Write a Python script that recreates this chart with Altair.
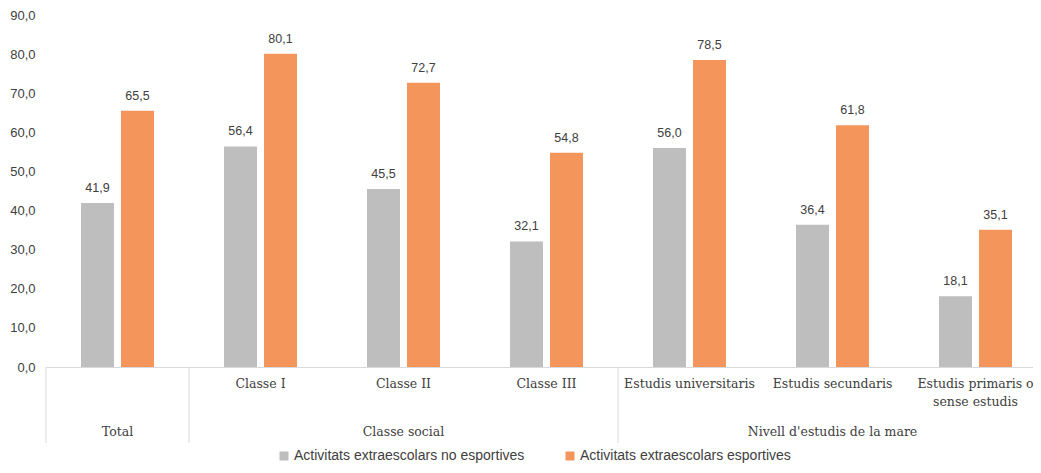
import altair as alt
import pandas as pd

categories = ["Total", "Classe I", "Classe II", "Classe III",
              "Estudis universitaris", "Estudis secundaris",
              "Estudis primaris o sense estudis"]
series = ["Activitats extraescolars no esportives",
          "Activitats extraescolars esportives"]
no_esportives = [41.9, 56.4, 45.5, 32.1, 56.0, 36.4, 18.1]
esportives = [65.5, 80.1, 72.7, 54.8, 78.5, 61.8, 35.1]
groups = ["Total", "Classe social", "Nivell d'estudis de la mare"]
group_center = ["Total", "Classe II", "Estudis secundaris"]
group_start = ["Total", "Classe I", "Estudis universitaris"]
y_ticks = [0, 10, 20, 30, 40, 50, 60, 70, 80, 90]

GRAY = "#BFBEBF"
ORANGE = "#F4955C"
TEXT = "#404040"
LINE = "#D9D9D9"
SERIF = "DejaVu Serif"
SANS = "Liberation Sans"

rows = []
for c, a, b in zip(categories, no_esportives, esportives):
    rows.append({"cat": c, "series": series[0], "value": a})
    rows.append({"cat": c, "series": series[1], "value": b})
df = pd.DataFrame(rows)
grp_df = pd.DataFrame({"group": groups, "center": group_center})
sep_df = pd.DataFrame({"start": group_start})

H = 352
W = 987
xscale = alt.Scale(domain=categories, range=[0, 1001], paddingInner=0, paddingOuter=0)
yscale = alt.Scale(domain=[0, 90], nice=False, zero=True)
xoff = alt.XOffset("series:N", sort=series,
                   scale=alt.Scale(domain=series, paddingInner=0.175, paddingOuter=0.875))

xaxis = alt.Axis(labelAngle=0, ticks=False, domainColor=LINE, domainWidth=1,
                 labelFont=SERIF, labelFontSize=12.5, labelColor=TEXT,
                 labelPadding=10, labelLineHeight=18, labelLimit=300,
                 labelOverlap=False, labelBound=False,
                 labelExpr="datum.label == 'Total' ? '' : split(replace(datum.label, 'primaris o ', 'primaris o|'), '|')")
yaxis = alt.Axis(values=y_ticks, tickCount=10, domain=False, ticks=False, grid=False,
                 labelFont=SANS, labelFontSize=13, labelColor=TEXT,
                 labelPadding=11, labelOverlap=False,
                 labelExpr="replace(format(datum.value, '.1f'), '.', ',')")

base = alt.Chart(df)

bars = base.mark_bar().encode(
    x=alt.X("cat:N", sort=categories, scale=xscale, title=None, axis=xaxis),
    xOffset=xoff,
    y=alt.Y("value:Q", scale=yscale, title=None, axis=yaxis),
    color=alt.Color("series:N", sort=series,
                    scale=alt.Scale(domain=series, range=[GRAY, ORANGE]),
                    legend=alt.Legend(orient="none", legendX=231, legendY=434,
                                      direction="horizontal", title=None,
                                      symbolType="square", symbolSize=81,
                                      symbolStrokeWidth=0, labelLimit=400,
                                      labelFont=SANS, labelFontSize=14,
                                      labelColor=TEXT, columnPadding=38,
                                      labelOffset=3)),
)

labels = base.transform_calculate(
    lbl="replace(format(datum.value, '.1f'), '.', ',')"
).mark_text(baseline="bottom", dy=-8, font=SANS, fontSize=12.5, color=TEXT).encode(
    x=alt.X("cat:N", sort=categories, scale=xscale, title=None, axis=xaxis),
    xOffset=xoff,
    y=alt.Y("value:Q", scale=yscale, title=None, axis=yaxis),
    text="lbl:N",
)

seps = alt.Chart(sep_df).mark_rule(color=LINE, strokeWidth=1).encode(
    x=alt.X("start:N", scale=xscale, title=None, bandPosition=0, axis=xaxis),
    y=alt.value(H),
    y2=alt.value(H + 76),
)

grp_text = alt.Chart(grp_df).mark_text(font=SERIF, fontSize=12.5, color=TEXT,
                                       baseline="middle").encode(
    x=alt.X("center:N", scale=xscale, title=None, axis=xaxis),
    y=alt.value(H + 65),
    text="group:N",
)

chart = alt.layer(bars, labels, seps, grp_text).properties(
    width=W, height=H,
    autosize=alt.AutoSizeParams(type="none"),
    padding={"left": 38, "top": 7, "right": 0, "bottom": 98},
).configure_view(stroke=None)

chart.save("out.html", embed_options={"renderer": "svg", "actions": False})
